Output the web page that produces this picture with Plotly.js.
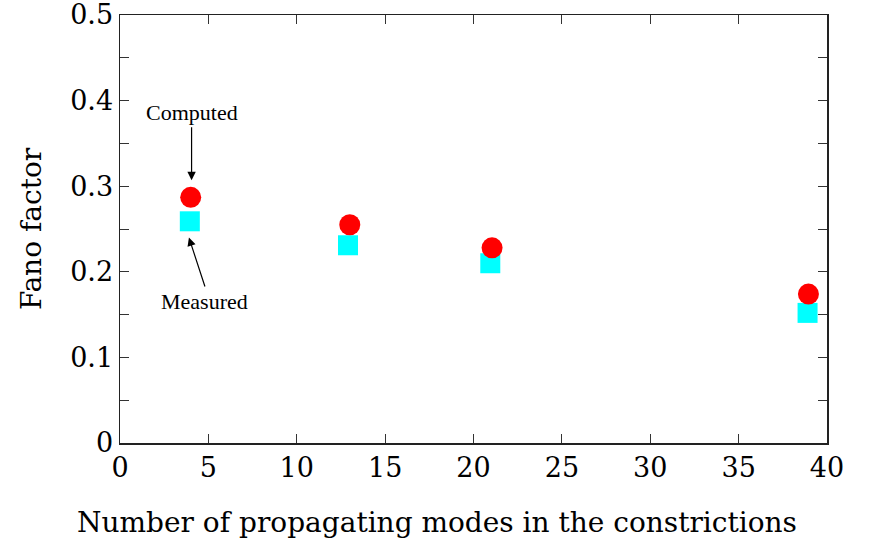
<!DOCTYPE html>
<html>
<head>
<meta charset="utf-8">
<script src="https://cdn.plot.ly/plotly-3.0.1.min.js"></script>
<style>
  html, body { margin: 0; padding: 0; background: #fff; }
  #plot { width: 869px; height: 540px; }
</style>
</head>
<body>
<div id="plot"></div>
<script>
// Fano factor versus number of propagating modes
const modesComputed = [4.0, 13.0, 21.05, 38.95];
const fanoComputed  = [0.287, 0.255, 0.228, 0.174];
const modesMeasured = [3.95, 12.9, 20.95, 38.9];
const fanoMeasured  = [0.259, 0.231, 0.210, 0.152];

const xTickVals = [0, 5, 10, 15, 20, 25, 30, 35, 40];
const yTickVals = [0, 0.1, 0.2, 0.3, 0.4, 0.5];
const yTickText = ['0', '0.1', '0.2', '0.3', '0.4', '0.5'];

const xTitle = 'Number of propagating modes in the constrictions';
const yTitle = 'Fano factor';

const axisFont = 'DejaVu Serif, serif';
const noteFont = 'Liberation Serif, Times New Roman, serif';

const traces = [
  {
    x: modesMeasured, y: fanoMeasured,
    mode: 'markers', type: 'scatter',
    marker: { symbol: 'square', size: 20, color: '#00ffff' },
    hoverinfo: 'x+y'
  },
  {
    x: modesComputed, y: fanoComputed,
    mode: 'markers', type: 'scatter',
    marker: { symbol: 'circle', size: 21, color: '#ff0000' },
    hoverinfo: 'x+y'
  }
];

const layout = {
  width: 869, height: 540,
  margin: { l: 120, r: 42, t: 15, b: 97 },
  paper_bgcolor: '#fff', plot_bgcolor: '#fff',
  showlegend: false,
  font: { family: axisFont, color: '#000' },
  xaxis: {
    range: [0, 40],
    tickvals: xTickVals,
    ticks: 'inside', ticklen: 9, tickcolor: '#333', tickwidth: 1,
    showgrid: false, zeroline: false,
    showline: true, linecolor: '#222', linewidth: 1.5, mirror: 'allticks',
    tickfont: { family: axisFont, size: 27 },
    ticklabeloverflow: 'allow'
  },
  yaxis: {
    range: [0, 0.5],
    tickvals: yTickVals, ticktext: yTickText,
    ticks: 'inside', ticklen: 9, tickcolor: '#333', tickwidth: 1,
    minor: { dtick: 0.05, ticks: 'inside', ticklen: 9, tickcolor: '#333', tickwidth: 1, showgrid: false },
    showgrid: false, zeroline: false,
    showline: true, linecolor: '#222', linewidth: 1.5, mirror: 'allticks',
    tickfont: { family: axisFont, size: 27 },
    ticklabeloverflow: 'allow',
    title: { text: yTitle, font: { family: axisFont, size: 28 }, standoff: 20 }
  },
  annotations: [
    {
      // x-axis title, placed as paper text so it can sit left of the plot centre
      x: 0.448, y: -0.185, xref: 'paper', yref: 'paper',
      xanchor: 'center', yanchor: 'middle',
      text: xTitle, font: { family: axisFont, size: 28 },
      showarrow: false
    },
    {
      x: 4.05, y: 0.307, xref: 'x', yref: 'y',
      text: 'Computed', font: { family: noteFont, size: 22 },
      showarrow: true, arrowhead: 2, arrowsize: 1.4, arrowwidth: 1.2, arrowcolor: '#000',
      ax: 0, ay: -53, yanchor: 'bottom'
    },
    {
      x: 3.9, y: 0.240, xref: 'x', yref: 'y',
      text: 'Measured', font: { family: noteFont, size: 22 },
      showarrow: true, arrowhead: 2, arrowsize: 1.4, arrowwidth: 1.2, arrowcolor: '#000',
      ax: 16, ay: 49, yanchor: 'top'
    }
  ]
};

Plotly.newPlot('plot', traces, layout, { displayModeBar: false, staticPlot: true });
</script>
</body>
</html>
